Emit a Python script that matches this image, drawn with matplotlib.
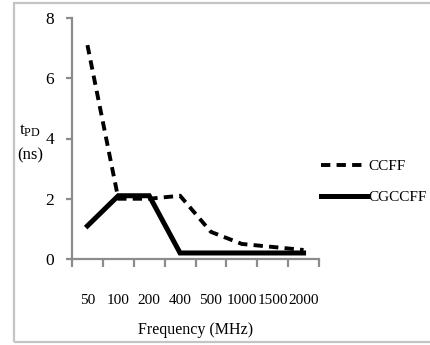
import matplotlib
matplotlib.use("Agg")
import matplotlib.pyplot as plt
from matplotlib.patches import Rectangle

categories = ["50", "100", "200", "400", "500", "1000", "1500", "2000"]
ccff = [7.1, 2.0, 2.0, 2.1, 0.9, 0.5, 0.4, 0.3]
cgccff = [1.1, 2.1, 2.1, 0.2, 0.2, 0.2, 0.2, 0.2]
yticks = [0, 2, 4, 6, 8]

plt.rcParams['font.family'] = ['Liberation Serif', 'DejaVu Serif']
plt.rcParams['mathtext.fontset'] = 'custom'
plt.rcParams['mathtext.rm'] = 'Liberation Serif'
plt.rcParams['mathtext.it'] = 'Liberation Serif'

fig = plt.figure(figsize=(4.3, 3.45), dpi=100)
fig.patches.append(Rectangle((14/430, 3/345), 1.0, 339/345, transform=fig.transFigure,
                             fill=False, edgecolor='#c4c4c4', lw=1.6))

ax = fig.add_axes([72/430, 1 - 259/345, (319 - 72)/430, (259 - 18)/345])
x = list(range(len(categories)))
l1, = ax.plot(x, ccff, color='black', lw=2.8, linestyle=(0, (2.4, 1.6)), label='CCFF',
              solid_capstyle='butt', dash_capstyle='butt')
l2, = ax.plot(x, cgccff, color='black', lw=3.6, label='CGCCFF', solid_joinstyle='miter')

ax.set_xlim(-0.5, len(categories) - 0.5)
ax.set_ylim(0, 8)
ax.set_yticks(yticks)
ax.set_yticklabels([str(v) for v in yticks])
ax.set_xticks([i - 0.5 for i in range(len(categories) + 1)])
ax.set_xticklabels([])
ax.set_xticks(x, minor=True)
ax.set_xticklabels(categories, minor=True)
ax.tick_params(axis='x', which='minor', length=0, pad=25, labelsize=11)
ax.tick_params(axis='x', which='major', length=6, width=1.6, color='#8c8c8c')
ax.tick_params(axis='y', length=4, width=1.6, color='#8c8c8c', labelsize=12.5, pad=9)
for s in ['top', 'right']:
    ax.spines[s].set_visible(False)
for s in ['left', 'bottom']:
    ax.spines[s].set_color('#8c8c8c')
    ax.spines[s].set_linewidth(1.6)

fig.text(196/430, 1 - 330/345, 'Frequency (MHz)', ha='center', va='center', fontsize=11.5)
fig.text(30/430, 1 - 131/345, r'$\mathregular{t_{PD}}$', ha='center', va='center', fontsize=12.5)
fig.text(30/430, 1 - 155/345, '(ns)', ha='center', va='center', fontsize=12)

fig.legend(handles=[l1, l2], loc='center left', bbox_to_anchor=(321/430, 1 - 182/345),
           frameon=False, fontsize=11, handlelength=3.0, handletextpad=0.08,
           labelspacing=1.15, borderaxespad=0, borderpad=0)

fig.savefig('out.png', dpi=100)
